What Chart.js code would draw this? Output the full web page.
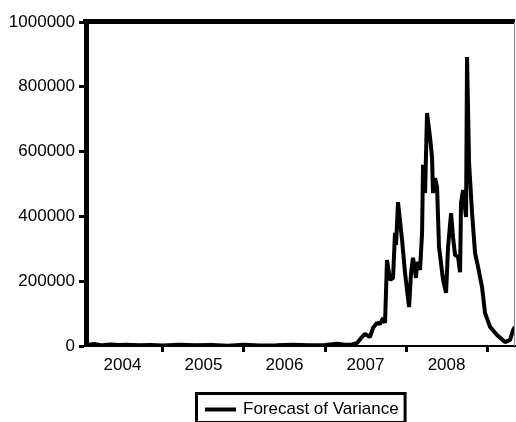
<!DOCTYPE html>
<html lang="en">
<head>
<meta charset="UTF-8">
<title>Forecast of Variance</title>
<script src="https://cdn.jsdelivr.net/npm/chart.js"></script>
<style>
  body { margin: 0; background: #fff; }
  #chartBox { width: 516px; height: 422px; }
</style>
</head>
<body>
<div id="chartBox"><canvas id="varianceChart" width="516" height="422"></canvas></div>
<script>
// time in decimal years
const weeks = [
  2004.05, 2004.15, 2004.25, 2004.35, 2004.45, 2004.55, 2004.70, 2004.85,
  2005.00, 2005.20, 2005.40, 2005.60, 2005.80, 2006.00, 2006.20, 2006.40,
  2006.60, 2006.80, 2007.00, 2007.15, 2007.25, 2007.33,
  2007.395, 2007.457, 2007.494, 2007.556, 2007.593, 2007.642, 2007.679, 2007.716,
  2007.741, 2007.765, 2007.802, 2007.840, 2007.864, 2007.877, 2007.901, 2007.951,
  2007.988, 2008.037, 2008.062, 2008.086, 2008.123, 2008.136, 2008.173, 2008.198,
  2008.210, 2008.235, 2008.259, 2008.296, 2008.321, 2008.333, 2008.358, 2008.383,
  2008.407, 2008.457, 2008.494, 2008.519, 2008.556, 2008.580, 2008.605, 2008.642,
  2008.667, 2008.679, 2008.704, 2008.741, 2008.753, 2008.778, 2008.815, 2008.852,
  2008.889, 2008.938, 2008.975, 2009.037, 2009.123, 2009.222, 2009.284, 2009.321,
  2009.345
];
const variance = [
  3000, 6000, 2000, 5000, 3000, 4000, 2000, 3000,
  1500, 4000, 2000, 3000, 1000, 3500, 1500, 2500,
  4000, 2000, 3000, 7000, 4000, 5000,
  9000, 28000, 37000, 28000, 56000, 71000, 68000, 86000,
  71000, 265000, 204000, 210000, 349000, 312000, 444000, 327000,
  225000, 120000, 225000, 272000, 210000, 259000, 235000, 349000,
  559000, 472000, 719000, 645000, 583000, 472000, 518000, 491000,
  306000, 204000, 164000, 306000, 410000, 336000, 281000, 275000,
  228000, 441000, 481000, 398000, 892000, 565000, 410000, 287000,
  244000, 182000, 102000, 59000, 34000, 12000, 19000, 49000,
  59000
];
const years = [2004, 2005, 2006, 2007, 2008];
const valueTicks = [0, 200000, 400000, 600000, 800000, 1000000];

const fontSpec = { family: "'Liberation Sans', Arial, sans-serif", size: 17 };

const framePlugin = {
  id: 'frame',
  afterDatasetsDraw(chart) {
    const { ctx, chartArea: a } = chart;
    ctx.save();
    // heavy top edge, thin right edge
    ctx.strokeStyle = '#000';
    ctx.lineWidth = 5;
    ctx.beginPath();
    ctx.moveTo(a.left - 3, a.top - 0.5);
    ctx.lineTo(a.right, a.top - 0.5);
    ctx.stroke();
    ctx.strokeStyle = '#888';
    ctx.lineWidth = 1;
    ctx.beginPath();
    ctx.moveTo(a.right - 0.5, a.top);
    ctx.lineTo(a.right - 0.5, a.bottom);
    ctx.stroke();

    // boxed legend under the plot
    const label = chart.data.datasets[0].label;
    ctx.font = fontSpec.size + 'px ' + fontSpec.family;
    const textW = ctx.measureText(label).width;
    const boxW = 48 + textW + 8;
    const cx = (a.left + a.right) / 2;
    const left = Math.round(cx - boxW / 2);
    const top = 392;
    ctx.strokeStyle = '#000';
    ctx.lineWidth = 3;
    ctx.strokeRect(left + 1.5, top + 1.5, boxW - 3, 29);
    ctx.lineWidth = 4;
    ctx.beginPath();
    ctx.moveTo(left + 10, 409.5);
    ctx.lineTo(left + 41, 409.5);
    ctx.stroke();
    ctx.fillStyle = '#000';
    ctx.textBaseline = 'middle';
    ctx.textAlign = 'left';
    ctx.fillText(label, left + 48, 409.5);
    ctx.restore();
  }
};

const el = document.getElementById('varianceChart');
const varianceChart = new Chart(el, {
  type: 'line',
  data: {
    datasets: [{
      label: 'Forecast of Variance',
      data: weeks.map((t, i) => ({ x: t, y: variance[i] })),
      borderColor: '#000',
      borderWidth: 4,
      borderJoinStyle: 'bevel',
      pointRadius: 0,
      tension: 0,
      fill: false
    }]
  },
  options: {
    responsive: false,
    animation: false,
    layout: { padding: { top: 22, right: 1, left: 0, bottom: 0 } },
    plugins: {
      legend: { display: false },
      tooltip: { enabled: false }
    },
    scales: {
      x: {
        type: 'linear',
        min: 2004.05,
        max: 2009.345,
        afterFit: s => { s.height = 76; },
        afterBuildTicks: s => {
          const marks = years.map(y => ({ value: y + 1 }));
          const mids = years.map(y => ({ value: y + 0.5 }));
          s.ticks = marks.concat(mids).sort((p, q) => p.value - q.value);
        },
        ticks: {
          autoSkip: false,
          maxRotation: 0,
          padding: 3,
          color: '#000',
          font: fontSpec,
          callback: v => Number.isInteger(v) ? '' : String(Math.floor(v))
        },
        grid: {
          drawOnChartArea: false,
          tickLength: 6,
          tickWidth: 3,
          tickColor: ctx => Number.isInteger(ctx.tick.value) ? '#000' : 'rgba(0,0,0,0)'
        },
        border: { display: true, color: '#000', width: 2 }
      },
      y: {
        min: 0,
        max: 1000000,
        afterFit: s => { s.width = 86; },
        afterBuildTicks: s => { s.ticks = valueTicks.map(v => ({ value: v })); },
        ticks: {
          padding: 4,
          color: '#000',
          font: fontSpec,
          callback: v => String(v)
        },
        grid: {
          drawOnChartArea: false,
          tickLength: 7,
          tickWidth: 3,
          tickColor: '#000'
        },
        border: { display: true, color: '#000', width: 5 }
      }
    }
  },
  plugins: [framePlugin]
});
</script>
</body>
</html>
